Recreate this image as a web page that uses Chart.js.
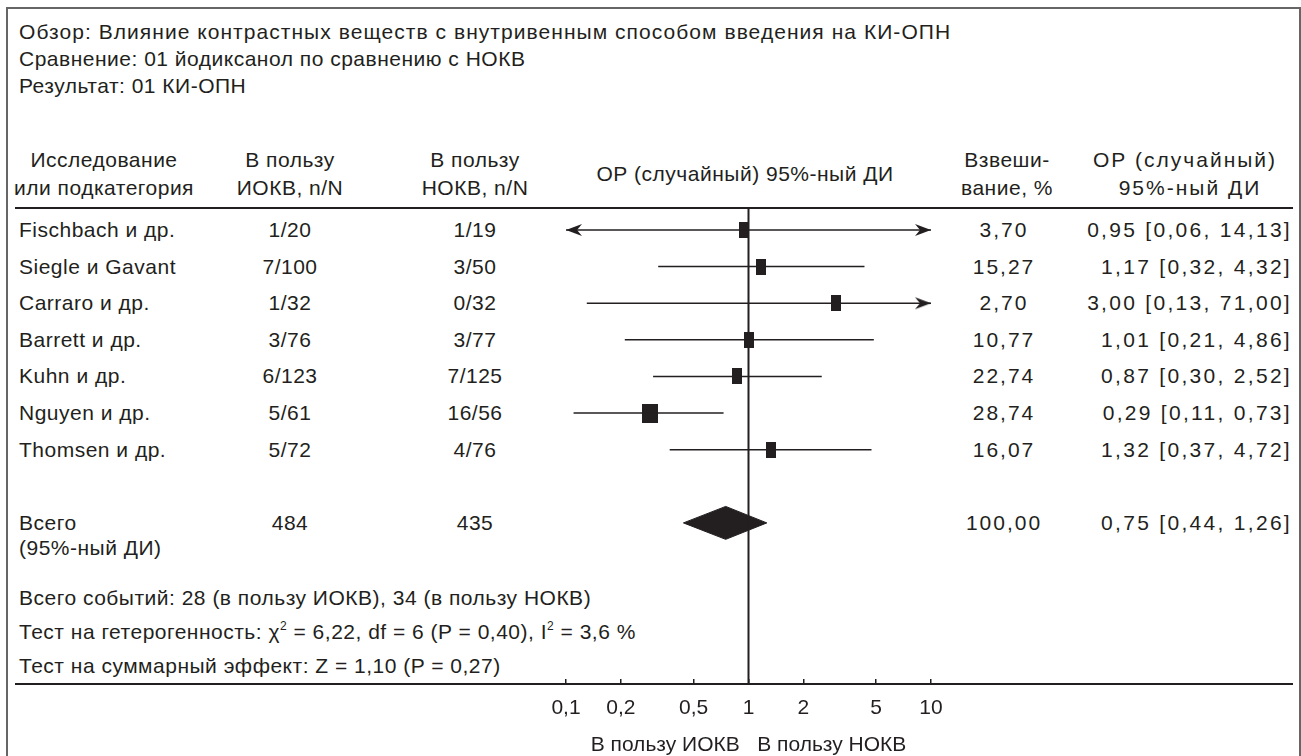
<!DOCTYPE html>
<html lang="ru">
<head>
  <meta charset="UTF-8">
  <title>Обзор: КИ-ОПН, йодиксанол по сравнению с НОКВ</title>

  <!-- Chart.js for the forest plot -->
  <script src="https://cdn.jsdelivr.net/npm/chart.js"></script>

  <style>
    body { margin: 0; width: 1301px; height: 756px; overflow: hidden; background: #fff;
           font-family: "Liberation Sans", Arial, sans-serif; color: #231f20; }
    #frame { position: absolute; left: 6px; top: 7px; width: 1291px; height: 800px;
             border: 2px solid #666; border-bottom: none; }
    .rule { position: absolute; left: 15px; width: 1278px; height: 2px; background: #231f20; }
    .t { position: absolute; font-size: 21px; line-height: 26px; white-space: nowrap; letter-spacing: 0.5px; }
    .t sup { font-size: 12px; line-height: 0; vertical-align: 9px; }
    .t.title { letter-spacing: 1.05px; }
    .t.wide { letter-spacing: 2px; }
    .t.ci { letter-spacing: 2.3px; }
    #plot { position: absolute; left: 0; top: 0; }
  </style>
</head>

<body>
  <div id="frame"></div>
  <div class="rule" style="top:207px"></div>
  <div class="rule" style="top:683px"></div>
  <div id="texts"></div>
  <canvas id="plot" width="1301" height="756"></canvas>

  <script>
    // ---- data ----
    const studies = ['Fischbach и др.', 'Siegle и Gavant', 'Carraro и др.', 'Barrett и др.',
                     'Kuhn и др.', 'Nguyen и др.', 'Thomsen и др.'];
    const iokv = ['1/20', '7/100', '1/32', '3/76', '6/123', '5/61', '5/72'];
    const nokv = ['1/19', '3/50', '0/32', '3/77', '7/125', '16/56', '4/76'];
    const weights = [3.70, 15.27, 2.70, 10.77, 22.74, 28.74, 16.07];
    const rr = [0.95, 1.17, 3.00, 1.01, 0.87, 0.29, 1.32];
    const rrLow = [0.06, 0.32, 0.13, 0.21, 0.30, 0.11, 0.37];
    const rrHigh = [14.13, 4.32, 71.00, 4.86, 2.52, 0.73, 4.72];
    const totals = [484, 435];
    const totalWeight = 100.00;
    const pooled = [0.75, 0.44, 1.26];   // estimate, low, high
    const tickVals = [0.1, 0.2, 0.5, 1, 2, 5, 10];

    const titleLines = [
      'Обзор: Влияние контрастных веществ с внутривенным способом введения на КИ-ОПН',
      'Сравнение: 01 йодиксанол по сравнению с НОКВ',
      'Результат: 01 КИ-ОПН'
    ];
    const summaryLines = [
      'Всего событий: 28 (в пользу ИОКВ), 34 (в пользу НОКВ)',
      'Тест на гетерогенность: χ<sup>2</sup> = 6,22, df = 6 (P = 0,40), I<sup>2</sup> = 3,6 %',
      'Тест на суммарный эффект: Z = 1,10 (P = 0,27)'
    ];

    const ink = '#231f20';
    const fmt = v => v.toFixed(2).replace('.', ',');

    // ---- table text ----
    const box = document.getElementById('texts');
    function put(html, x, y, align, cls) {
      const d = document.createElement('div');
      d.className = 't' + (cls ? ' ' + cls : '');
      d.innerHTML = html;
      d.style.left = x + 'px';
      d.style.top = (y - 13) + 'px';
      if (align === 'center') d.style.transform = 'translateX(-50%)';
      if (align === 'right') d.style.transform = 'translateX(-100%)';
      box.appendChild(d);
    }

    titleLines.forEach((s, i) => put(s, 19, 32 + i * 27, 'left', i === 0 ? 'title' : ''));

    put('Исследование', 104, 160, 'center');
    put('или подкатегория', 104, 188, 'center');
    put('В пользу', 290, 160, 'center');
    put('ИОКВ, n/N', 290, 188, 'center');
    put('В пользу', 475, 160, 'center');
    put('НОКВ, n/N', 475, 188, 'center');
    put('ОР (случайный) 95%-ный ДИ', 745, 174, 'center');
    put('Взвеши-', 1007, 160, 'center');
    put('вание, %', 1007, 188, 'center');
    put('ОР (случайный)', 1185, 160, 'center', 'wide');
    put('95%-ный ДИ', 1190, 188, 'center', 'wide');

    const rowTop = 230, rowStep = 36.6;
    studies.forEach((s, i) => {
      const y = rowTop + i * rowStep;
      put(s, 19, y, 'left');
      put(iokv[i], 290, y, 'center');
      put(nokv[i], 475, y, 'center');
      put(fmt(weights[i]), 1004, y, 'center', 'wide');
      put(fmt(rr[i]) + ' [' + fmt(rrLow[i]) + ', ' + fmt(rrHigh[i]) + ']', 1292, y, 'right', 'ci');
    });

    put('Всего', 19, 523, 'left');
    put('(95%-ный ДИ)', 19, 548, 'left');
    put(String(totals[0]), 290, 523, 'center');
    put(String(totals[1]), 475, 523, 'center');
    put(fmt(totalWeight), 1004, 523, 'center', 'wide');
    put(fmt(pooled[0]) + ' [' + fmt(pooled[1]) + ', ' + fmt(pooled[2]) + ']', 1292, 523, 'right', 'ci');

    summaryLines.forEach((s, i) => put(s, 19, 598 + i * 34, 'left'));

    // ---- marker images ----
    function boxImg(w, h) {
      const c = document.createElement('canvas');
      c.width = w; c.height = h;
      const g = c.getContext('2d');
      g.fillStyle = ink;
      g.fillRect(0, 0, w, h);
      return c;
    }
    function arrowImg(dir) {
      const c = document.createElement('canvas');
      c.width = 36; c.height = 14;
      const g = c.getContext('2d');
      g.fillStyle = ink;
      g.beginPath();
      if (dir > 0) { g.moveTo(18, 7); g.lineTo(2, 1); g.lineTo(7, 7); g.lineTo(2, 13); }
      else { g.moveTo(18, 7); g.lineTo(34, 1); g.lineTo(29, 7); g.lineTo(34, 13); }
      g.closePath();
      g.fill();
      return c;
    }

    // ---- datasets ----
    const xMin = tickVals[0], xMax = tickVals[tickVals.length - 1];
    const rowY = studies.map((s, i) => i + 0.6);
    const totalY = 8.6;

    const datasets = [];
    datasets.push({
      data: [{ x: 1, y: 0 }, { x: 1, y: 13 }],
      showLine: true, borderColor: ink, borderWidth: 2, pointRadius: 0
    });
    studies.forEach((s, i) => {
      datasets.push({
        data: [{ x: Math.max(rrLow[i], xMin), y: rowY[i] }, { x: Math.min(rrHigh[i], xMax), y: rowY[i] }],
        showLine: true, borderColor: ink, borderWidth: 1.5, pointRadius: 0
      });
    });

    const arrowPts = [], arrowStyles = [];
    studies.forEach((s, i) => {
      if (rrLow[i] < xMin) { arrowPts.push({ x: xMin, y: rowY[i] }); arrowStyles.push(arrowImg(-1)); }
      if (rrHigh[i] > xMax) { arrowPts.push({ x: xMax, y: rowY[i] }); arrowStyles.push(arrowImg(1)); }
    });
    datasets.push({ data: arrowPts, pointStyle: arrowStyles, pointRadius: 7, clip: false });

    const boxStyles = weights.map(w => w > 25 ? boxImg(16, 19) : boxImg(10, 16));
    datasets.push({
      data: rr.map((v, i) => ({ x: v, y: rowY[i] })),
      pointStyle: boxStyles, pointRadius: 8, clip: false
    });

    datasets.push({
      data: [
        { x: pooled[1], y: totalY }, { x: pooled[0], y: totalY - 0.45 },
        { x: pooled[2], y: totalY }, { x: pooled[0], y: totalY + 0.45 },
        { x: pooled[1], y: totalY }
      ],
      showLine: true, fill: 'shape', borderColor: ink, backgroundColor: ink,
      borderWidth: 1, pointRadius: 0
    });

    const font = { family: '"Liberation Sans", Arial, sans-serif', size: 21 };

    new Chart(document.getElementById('plot'), {
      type: 'scatter',
      data: { datasets },
      options: {
        responsive: false,
        animation: false,
        layout: { padding: { left: 566, right: 370, top: 208, bottom: 0 } },
        plugins: { legend: { display: false }, tooltip: { enabled: false } },
        scales: {
          x: {
            type: 'logarithmic', min: xMin, max: xMax, position: 'bottom',
            afterBuildTicks: s => { s.ticks = tickVals.map(v => ({ value: v })); },
            afterFit: s => { s.height = 72; },
            grid: { drawOnChartArea: false, drawTicks: true, tickLength: -5, lineWidth: 1.5, color: ink },
            border: { display: false },
            ticks: {
              color: ink, font, padding: 17, maxRotation: 0, autoSkip: false,
              callback: v => String(v).replace('.', ',')
            },
            title: {
              display: true, text: 'В пользу ИОКВ   В пользу НОКВ', color: ink, font,
              padding: { top: 0, bottom: -2 }
            }
          },
          y: { type: 'linear', min: 0, max: 13, reverse: true, display: false }
        }
      }
    });
  </script>
</body>
</html>
